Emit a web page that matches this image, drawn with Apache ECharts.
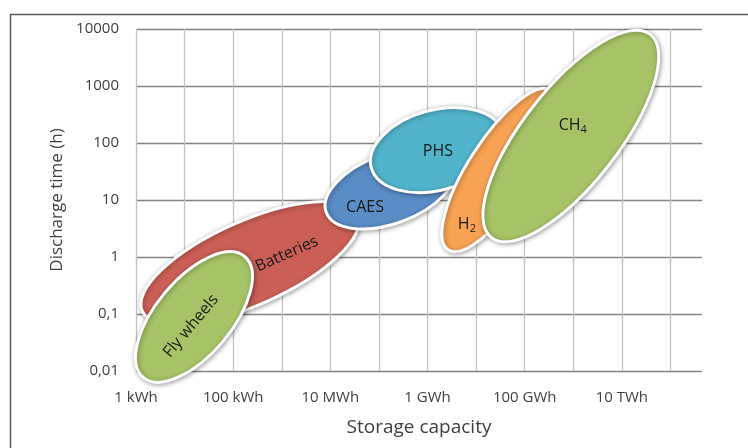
<!DOCTYPE html>
<html><head><meta charset="utf-8">
<script src="https://cdn.jsdelivr.net/npm/echarts@6/dist/echarts.min.js"></script>
<style>html,body{margin:0;padding:0;background:#fff}#c{width:748px;height:448px}</style>
</head><body><div id="c"></div>
<script>
// Storage technologies: each region is an ellipse whose major axis runs
// from (capacityFrom, dischargeFrom) to (capacityTo, dischargeTo)
const technologies   = ['Batteries', 'Fly wheels', 'CAES', 'PHS', 'H2', 'CH4'];
const capacityFromKWh = [1.34, 1.41, 8.2e3, 6.95e4, 2.67e6, 2.07e7];
const capacityToKWh   = [3.66e4, 173, 3.48e6, 3.5e7, 3.57e8, 3.84e10];
const dischargeFromH  = [0.113, 0.0077, 6.1, 37, 1.34, 2.19];
const dischargeToH    = [5.46, 1.02, 40, 153, 841, 8040];
const widthRatio      = [0.356, 0.48, 0.51, 0.59, 0.33, 0.372];

const xTickExponents = [0, 2, 4, 6, 8, 10];
const xTickLabels = ['1 kWh', '100 kWh', '10 MWh', '1 GWh', '100 GWh', '10 TWh'];
const yTickExponents = [-2, -1, 0, 1, 2, 3, 4];
const yTickLabels = ['0,01', '0,1', '1', '10', '100', '1000', '10000'];

const fills = ['#CB5F57', '#A6C367', '#5A8CC6', '#52B4CB', '#F8A253', '#A6C367'];
const labelStyle = [
  { text: 'Batteries', dx: 37, dy: -9, along: true },
  { text: 'Fly wheels', dx: -3, dy: 9, along: true },
  { text: 'CAES', dx: -25, dy: 18 },
  { text: 'PHS', dx: 1, dy: 1 },
  { text: '{n|H}{s|2}', dx: -33, dy: 54 },
  { text: '{n|CH}{s|4}', dx: 2, dy: -11 }
];

const data = technologies.map((t, i) => [
  Math.log10(capacityFromKWh[i]), Math.log10(dischargeFromH[i]),
  Math.log10(capacityToKWh[i]), Math.log10(dischargeToH[i]),
  widthRatio[i], i
]);

const FONT = '"Open Sans", "Liberation Sans", sans-serif';
const chart = echarts.init(document.getElementById('c'), null, { renderer: 'canvas' });

chart.setOption({
  animation: false,
  backgroundColor: '#fff',
  graphic: [{
    type: 'rect', left: 8, top: 12, silent: true,
    shape: { width: 800, height: 500 },
    style: { fill: 'none', stroke: '#595959', lineWidth: 1.5 }
  }],
  grid: { left: 136, right: 46, top: 29, bottom: 77 },
  xAxis: {
    type: 'value', min: 0, max: 11.65, interval: 1,
    name: 'Storage capacity', nameLocation: 'middle', nameGap: 47,
    nameTextStyle: { fontFamily: FONT, fontSize: 19, color: '#404040' },
    axisLine: { show: false },
    axisTick: { show: true, length: 6, lineStyle: { color: '#c4c4c4', width: 1.3 } },
    splitLine: { show: true, showMaxLine: false, lineStyle: { color: '#c4c4c4', width: 1.3 } },
    axisLabel: {
      margin: 19, fontFamily: FONT, fontSize: 15, color: '#404040',
      showMaxLabel: false,
      formatter: v => { const k = xTickExponents.indexOf(v); return k >= 0 ? xTickLabels[k] : ''; }
    }
  },
  yAxis: {
    type: 'value', min: -2, max: 4, interval: 1,
    name: 'Discharge time (h)', nameLocation: 'middle', nameGap: 68, nameRotate: 90,
    nameTextStyle: { fontFamily: FONT, fontSize: 17, color: '#404040' },
    axisLine: { show: false }, axisTick: { show: false },
    splitLine: { show: true, lineStyle: { color: '#858585', width: 1.3 } },
    axisLabel: {
      margin: 17, fontFamily: FONT, fontSize: 15, color: '#404040',
      formatter: v => { const k = yTickExponents.indexOf(v); return k >= 0 ? yTickLabels[k] : ''; }
    }
  },
  series: [{
    type: 'custom',
    clip: false,
    data: data,
    renderItem: (params, api) => {
      const i = api.value(5);
      const p1 = api.coord([api.value(0), api.value(1)]);
      const p2 = api.coord([api.value(2), api.value(3)]);
      const cx = (p1[0] + p2[0]) / 2, cy = (p1[1] + p2[1]) / 2;
      const ddx = p2[0] - p1[0], ddy = p2[1] - p1[1];
      const a = Math.hypot(ddx, ddy) / 2, b = a * api.value(4);
      const ang = Math.atan2(-ddy, ddx);
      const ls = labelStyle[i];
      return {
        type: 'group',
        children: [{
          type: 'ellipse', x: cx, y: cy, rotation: ang,
          shape: { cx: 0, cy: 0, rx: a, ry: b },
          style: {
            fill: fills[i], stroke: '#ffffff', lineWidth: 3,
            shadowBlur: 5, shadowColor: 'rgba(0,0,0,0.35)', shadowOffsetX: 1, shadowOffsetY: 1
          }
        }, {
          type: 'text', x: cx + ls.dx, y: cy + ls.dy, rotation: ls.along ? ang : 0,
          style: {
            text: ls.text, align: 'center', verticalAlign: 'middle',
            fontFamily: FONT, fontSize: 16, fill: '#1a1a1a',
            rich: {
              n: { fontFamily: FONT, fontSize: 16, lineHeight: 20, fill: '#1a1a1a' },
              s: { fontFamily: FONT, fontSize: 11, lineHeight: 11, padding: [9, 0, 0, 0], verticalAlign: 'bottom', fill: '#1a1a1a' }
            }
          }
        }]
      };
    }
  }]
});
</script>
</body></html>
